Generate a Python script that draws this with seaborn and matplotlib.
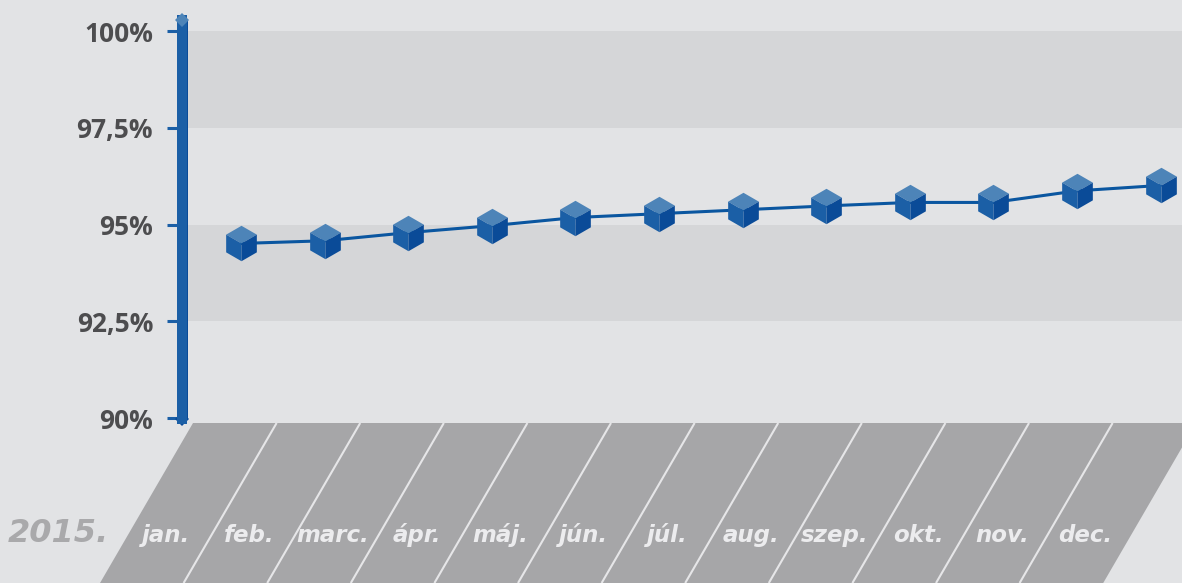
import numpy as np
import pandas as pd
import matplotlib
matplotlib.use("Agg")
import matplotlib.pyplot as plt
import seaborn as sns
from matplotlib.path import Path
from matplotlib.patches import Polygon
from matplotlib.transforms import ScaledTranslation

# data
months = ["jan.", "feb.", "marc.", "ápr.", "máj.", "jún.",
          "júl.", "aug.", "szep.", "okt.", "nov.", "dec."]
values = [94.51, 94.58, 94.79, 94.97, 95.18, 95.28,
          95.38, 95.48, 95.57, 95.57, 95.87, 96.01]
year_label = "2015."
y_ticks = [90, 92.5, 95, 97.5, 100]
y_tick_labels = ["90%", "92,5%", "95%", "97,5%", "100%"]

BG = "#e2e3e5"
BAND = "#d5d6d8"
FLOOR = "#a6a6a8"
BLUE = "#1b5fa6"
BLUE_DARK = "#0a4b98"
BLUE_TOP = "#4d84b8"
LINE = "#0a56a0"
TEXT = "#4d4d4f"

sns.set_theme(style="white")
plt.rcParams["font.family"] = ["Open Sans", "DejaVu Sans"]

df = pd.DataFrame({"x": np.arange(len(months)), "value": values})

fig = plt.figure(figsize=(11.82, 5.83), dpi=100, facecolor=BG)
ax = fig.add_axes([0, 0, 1, 1])
ax.set_facecolor(BG)

# pixel scale: one month = 83.6 px, one percent = 38.7 px
ax.set_xlim(-241 / 83.6, (1182 - 241) / 83.6)
ax.set_ylim(90 - 165 / 38.7, 90 + 418 / 38.7)

x_axis = (182 - 241) / 83.6
floor_top = 90 - 5 / 38.7
floor_bot = ax.get_ylim()[0]
slant = -93 / 83.6

# alternating bands
for lo, hi in [(97.5, 100), (92.5, 95)]:
    ax.fill_between([x_axis, ax.get_xlim()[1]], lo, hi, color=BAND, lw=0, zorder=0)

# floor with month columns
n = len(months)
left = -0.574
floor = Polygon([(left, floor_top), (left + n, floor_top),
                 (left + n + slant, floor_bot), (left + slant, floor_bot)],
                closed=True, facecolor=FLOOR, edgecolor="none", zorder=1)
ax.add_patch(floor)
for k in range(1, n):
    ax.plot([left + k, left + k + slant], [floor_top, floor_bot],
            color="#e6e6e8", lw=1.5, zorder=2, solid_capstyle="butt")
lab_y = 90 - 117 / 38.7
for k, m in enumerate(months):
    ax.text(k - 0.9, lab_y, m, ha="center", va="center", fontsize=16.5,
            fontweight="bold", fontstyle="italic", color="#ececee",
            family="DejaVu Sans", zorder=3)
ax.text(-2.18, 90 - 115 / 38.7, year_label, ha="center", va="center",
        fontsize=23, fontweight="bold", fontstyle="italic", color="#a9a9ab",
        family="DejaVu Sans", zorder=3)

# y axis as thick blue bar
for s in ["top", "right", "bottom"]:
    ax.spines[s].set_visible(False)
sp = ax.spines["left"]
sp.set_position(("data", x_axis))
sp.set_bounds(89.97, 100.28)
sp.set_color(BLUE)
sp.set_linewidth(7.2)
sp.set_zorder(4)
shift = ax.transData + ScaledTranslation(2.5 / 100, 0, fig.dpi_scale_trans)
ax.plot([x_axis, x_axis], [89.97, 100.28], color=BLUE_DARK, lw=3.6,
        transform=shift, zorder=4, solid_capstyle="butt")
ax.plot([x_axis], [100.28], marker="D", ms=7, color=BLUE_TOP, mew=0, zorder=5)
ax.plot([x_axis], [89.97], marker="D", ms=7, color=BLUE_DARK, mew=0, zorder=3)

ax.set_yticks(y_ticks)
ax.set_yticklabels(y_tick_labels)
ax.tick_params(axis="y", direction="out", length=10.8, width=2.2, color=BLUE,
               pad=10, labelsize=19, labelcolor=TEXT, left=True)
for t in ax.get_yticklabels():
    t.set_fontweight("bold")
ax.set_xticks([])

# line
sns.lineplot(data=df, x="x", y="value", color=LINE, lw=2.2, ax=ax, zorder=6)

# cube markers: three faces
c = 0.866
faces = [
    ([(0, 1), (-c, 0.5), (0, 0), (c, 0.5)], BLUE_TOP),
    ([(-c, 0.5), (0, 0), (0, -1), (-c, -0.5)], BLUE),
    ([(0, 0), (c, 0.5), (c, -0.5), (0, -1)], BLUE_DARK),
]
for verts, col in faces:
    path = Path(verts + [verts[0]],
                [Path.MOVETO, Path.LINETO, Path.LINETO, Path.LINETO, Path.CLOSEPOLY])
    sns.scatterplot(data=df, x="x", y="value", marker=path, s=25.5 ** 2,
                    color=col, linewidth=0, ax=ax, zorder=7, legend=False)

ax.set_xlabel("")
ax.set_ylabel("")
fig.savefig("out.png", dpi=100, facecolor=BG)
